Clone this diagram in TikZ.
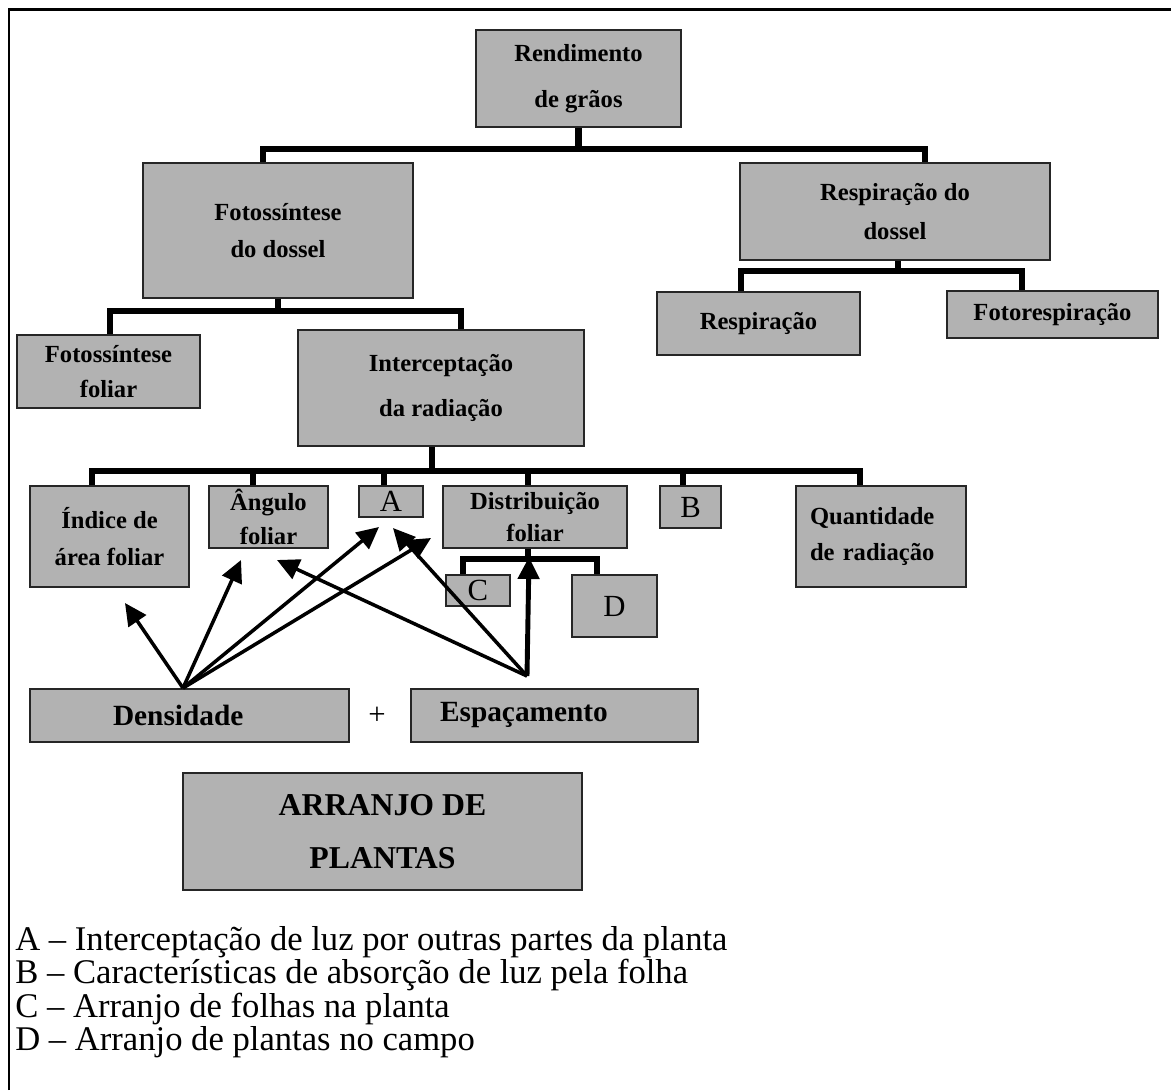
\documentclass[tikz,border=0pt]{standalone}
\usepackage{fontspec}
\setmainfont{Liberation Serif}
\usepackage{tikz}
\usetikzlibrary{arrows.meta}

\begin{document}
\begin{tikzpicture}[x=0.02cm, y=-0.02cm,
    box/.style={draw=black!85, line width=1.1pt, fill=black!30, rectangle, inner sep=0pt, align=center,
        font=\fontsize{14}{20}\selectfont\bfseries},
    letter/.style={font=\fontsize{17.5}{20}\selectfont},
    tie/.style={line width=3.8pt},
    push/.style={line width=2pt, -{Triangle[length=0.44cm, width=0.42cm]}}]
    \useasboundingbox (0, 0) rectangle (1171, 1090);
    \draw[line width=1.7pt] (9, 1090) -- (9, 9) -- (1171, 9);

    \node[box, minimum width=4.1cm, minimum height=1.94cm] at (578.5, 78.5) (rend) {Rendimento\\[6pt]de grãos};
    \node[box, minimum width=5.4cm, minimum height=2.7cm] at (278, 230.5) (fotoDossel) {Fotossíntese\\[1.5pt]do dossel};
    \node[box, minimum width=6.2cm, minimum height=1.94cm] at (895, 211.5) (respDossel) {Respiração do\\[2pt]dossel};
    \node[box, minimum width=3.66cm, minimum height=1.46cm] at (108.5, 371.5) (fotoFoliar) {Fotossíntese\\foliar};
    \node[box, minimum width=5.72cm, minimum height=2.32cm] at (441, 388) (intercep) {Interceptação\\[6pt]da radiação};
    \node[box, minimum width=4.06cm, minimum height=1.26cm] at (758.5, 323.5) (resp) {Respiração};
    \node[box, minimum width=4.22cm, minimum height=0.94cm] at (1052.5, 314.5) (fotoresp) {Fotorespiração};

    \node[box, minimum width=3.18cm, minimum height=2.02cm] at (109.5, 536.5) (indice) {Índice de\\[1.5pt]área foliar};
    \node[box, minimum width=2.38cm, minimum height=1.24cm] at (268.5, 517) (angulo) {Ângulo\\[-1pt]foliar};
    \node[box, letter, minimum width=1.28cm, minimum height=0.62cm] at (391, 501.5) (boxA) {A};
    \node[box, minimum width=3.68cm, minimum height=1.24cm] at (535, 517) (distrib) {Distribuição\\[-2pt]foliar};
    \node[box, letter, minimum width=1.22cm, minimum height=0.84cm] at (690.5, 507) (boxB) {B};
    \node[box, minimum width=3.4cm, minimum height=2.02cm, text width=2.84cm, inner xsep=0.28cm, align=left] at (881, 536.5) (quant) {Quantidade\\de radiação};
    \node[box, letter, minimum width=1.28cm, minimum height=0.62cm] at (478, 590.5) (boxC) {C};
    \node[box, letter, minimum width=1.7cm, minimum height=1.24cm] at (614.5, 606) (boxD) {D};

    \node[box, minimum width=6.38cm, minimum height=1.06cm, text width=3.06cm, inner xsep=1.66cm, align=left,
        font=\fontsize{16.7}{20}\selectfont\bfseries] at (189.5, 715.5) (dens) {Densidade};
    \node[letter] at (377, 716) (plus) {+};
    \node[box, minimum width=5.74cm, minimum height=1.06cm, text width=4.58cm, inner xsep=0.58cm, align=left,
        font=\fontsize{16.7}{20}\selectfont\bfseries] at (554.5, 715.5) (espac) {Espaçamento};
    \node[box, minimum width=7.98cm, minimum height=2.34cm,
        font=\fontsize{18.1}{30.6}\selectfont\bfseries] at (382.5, 831.5) (arranjo) {ARRANJO DE\\PLANTAS};

    \node[anchor=north west, inner sep=0pt, align=left, font=\fontsize{19.7}{17.6}\selectfont] at (15, 926) (key)
        {A – Interceptação de luz por outras partes da planta\\
         B – Características de absorção de luz pela folha\\
         C – Arranjo de folhas na planta\\
         D – Arranjo de plantas no campo};

    % ties
    \draw[tie] (rend.south) -- ++(0, 21) coordinate (b1);
    \draw[tie] ([xshift=-0.3cm]fotoDossel.north) |- (b1) -| ([xshift=0.6cm]respDossel.north);
    \draw[tie] (fotoDossel.south) -- ++(0, 12) coordinate (b2);
    \draw[tie] ([xshift=0.03cm]fotoFoliar.north) |- (b2) -| ([xshift=0.4cm]intercep.north);
    \draw[tie] ([xshift=0.06cm]respDossel.south) -- ++(0, 10) coordinate (b3);
    \draw[tie] ([xshift=-0.35cm]resp.north) |- (b3) -| ([xshift=-0.61cm]fotoresp.north);
    \draw[tie] ([xshift=-0.18cm]intercep.south) -- ++(0, 24) coordinate (b4);
    \foreach \n/\s in {indice/-0.35, angulo/-0.31, boxA/-0.14, distrib/-0.14, boxB/-0.15, quant/-0.42}
        \draw[tie] ([xshift=\s cm]\n.north) |- (b4);
    \draw[tie] ([xshift=-0.14cm]distrib.south) -- ++(0, 10) coordinate (b5);
    \draw[tie] ([xshift=-0.3cm]boxC.north) |- (b5) -| ([xshift=-0.35cm]boxD.north);

    % arrows
    \coordinate (densTop) at ([xshift=-0.13cm]dens.north);
    \coordinate (espTop) at ([xshift=-0.55cm, yshift=0.24cm]espac.north);
    \coordinate (tIndice) at (125, 603);
    \coordinate (tAngulo) at (241, 560);
    \coordinate (tA) at (379, 527);
    \coordinate (tDistrib) at (431, 538);
    \coordinate (tAnguloB) at (277, 560);
    \coordinate (tAB) at (393, 528);
    \coordinate (tDistribB) at (529, 557);
    \foreach \t in {tIndice, tAngulo, tA, tDistrib}
        \draw[push] (densTop) -- (\t);
    \foreach \t in {tAnguloB, tAB}
        \draw[push] (espTop) -- (\t);
    \draw[push, line width=2.8pt] (espTop) -- (tDistribB);
\end{tikzpicture}
\end{document}
